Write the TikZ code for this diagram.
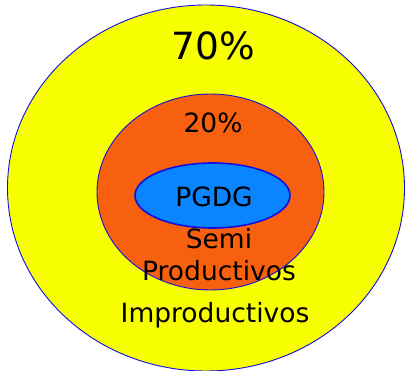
\documentclass[tikz,border=0pt]{standalone}
\usepackage{fontspec}
\setmainfont{DejaVu Sans}
\usetikzlibrary{shapes.geometric}
\definecolor{improd-color}{HTML}{F8FF00}
\definecolor{semi-color}{HTML}{F7600F}
\definecolor{pgdg-color}{HTML}{0A84FF}
\definecolor{ring-line}{HTML}{1010E0}
\tikzset{
  ring/.style={ellipse, draw=ring-line, inner sep=0pt, outer sep=0pt},
  improd/.style={fill=improd-color, line width=0.9pt},
  semi/.style={fill=semi-color, line width=0.9pt},
  pgdg/.style={fill=pgdg-color, line width=1.6pt},
  big label/.style={font=\fontsize{37.5}{46}\selectfont, inner sep=0pt},
  ring label/.style={font=\fontsize{26.5}{32}\selectfont, inner sep=0pt, align=center}
}
\begin{document}
\begin{tikzpicture}[x=1pt,y=-1pt]
  \useasboundingbox (0,0) rectangle (405,371);
  % rings, outside in
  \node[ring, improd, minimum width=397pt, minimum height=366pt] (improd ring) at (206,188) {};
  \node[ring, semi, minimum width=227pt, minimum height=196pt] (semi ring) at (210.5,192) {};
  \node[ring, pgdg, minimum width=155pt, minimum height=65pt] (pgdg ring) at (212.5,195.5) {};
  % labels
  \node[big label, anchor=base] (share70) at (213,60) {70\%};
  \node[ring label, anchor=base] (share20) at (213,133) {20\%};
  \node[ring label, anchor=base] (pgdg text) at (214,207) {PGDG};
  \node[ring label] (semi text) at (219,255) {Semi\\Productivos};
  \node[ring label, anchor=base] (improd text) at (215,323) {Improductivos};
\end{tikzpicture}
\end{document}
